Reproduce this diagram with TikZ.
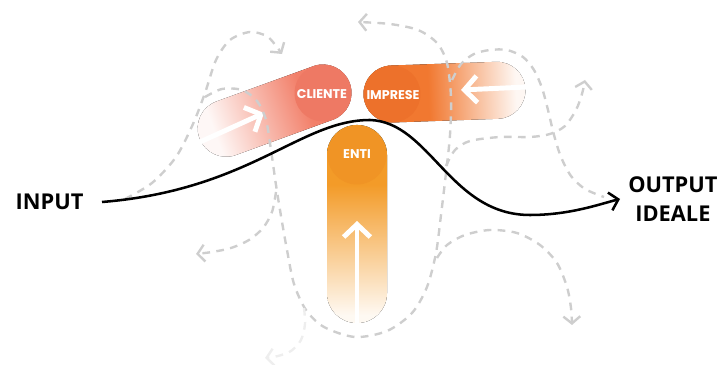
\documentclass[tikz,border=0pt]{standalone}
\usepackage{fontspec}
\setmainfont{Open Sans}
\newfontfamily\pillfont{Poppins}
\usetikzlibrary{arrows.meta}

\definecolor{clientecol}{RGB}{242,128,106}
\definecolor{clientehead}{RGB}{238,121,100}
\definecolor{imprcol}{RGB}{241,120,48}
\definecolor{imprhead}{RGB}{237,113,43}
\definecolor{enticol}{RGB}{243,155,40}
\definecolor{entihead}{RGB}{240,148,37}
\definecolor{trailgray}{RGB}{206,206,206}
\definecolor{trailfaint}{RGB}{238,238,238}
\colorlet{clientetail}{clientecol!6}
\colorlet{imprtail}{imprcol!6}
\colorlet{entitail}{enticol!6}

% fades of the three pills (the bounding box spans 25bp--75bp)
\pgfdeclarehorizontalshading{clientefade}{100bp}{color(0bp)=(clientetail); color(30bp)=(clientetail); color(60bp)=(clientecol); color(100bp)=(clientecol)}
\pgfdeclarehorizontalshading{imprfade}{100bp}{color(0bp)=(imprcol); color(45bp)=(imprcol); color(72bp)=(imprtail); color(100bp)=(imprtail)}
\pgfdeclareverticalshading{entifade}{100bp}{color(0bp)=(entitail); color(27bp)=(entitail); color(60bp)=(enticol); color(100bp)=(enticol)}

\tikzset{
  lbl/.style={font=\fontsize{15.5}{20.5}\selectfont\bfseries, text=black},
  pilllbl/.style={font=\pillfont\fontsize{9}{10}\selectfont\bfseries, text=white, inner sep=0pt},
  trail/.style={draw=trailgray, line width=1.7pt, dash pattern=on 5.5pt off 4.5pt},
  trailtip/.style={trail, -{Straight Barb[length=5pt,width=12pt]}},
  wharrow/.style={draw=white, line width=3.5pt, -{Straight Barb[length=9pt,width=19pt]}},
  conn/.style={draw=black, line width=1.8pt, -{Straight Barb[length=6pt,width=13pt]}}
}

\begin{document}
\begin{tikzpicture}[x=0.025cm,y=-0.025cm]
    \useasboundingbox (0,0) rectangle (719,365);
    % pills
    \fill[shading=entifade, rounded corners=0.74cm] (327,125) rectangle (387,323);
    \fill[entihead] (357,155) circle[radius=29.5];
    \begin{scope}[transform canvas={shift={(323,93)}, rotate=20}]
        \fill[shading=clientefade, rounded corners=0.71cm] (-131.5,-28.5) rectangle (28.5,28.5);
        \fill[clientehead] (0,0) circle[radius=28.5];
    \end{scope}
    \begin{scope}[transform canvas={shift={(392,94)}, rotate=2}]
        \fill[shading=imprfade, rounded corners=0.71cm] (-28.5,-28.5) rectangle (133.5,28.5);
        \fill[imprhead] (0,0) circle[radius=28.5];
    \end{scope}
    \node[pilllbl] (cliente) at (322,94) {CLIENTE};
    \node[pilllbl] (imprese) at (393,95) {IMPRESE};
    \node[pilllbl] (enti) at (357,154) {ENTI};
    % arrows inside the pills
    \draw[wharrow] (200,142) -- (264,113);
    \draw[wharrow] (527,87) -- (461,90);
    \draw[wharrow] (357,326) -- (357,221);
    % dashed trails
    \draw[trailtip] plot[smooth] coordinates {(125,199) (152,183) (176,157) (193,124) (205,93) (216,60) (230,40) (250,32) (268,37) (282,54)};
    \draw[trailtip] plot[smooth] coordinates {(205,97) (222,89) (242,90) (257,101) (266,120) (271,150) (276,185) (281,216) (287,250) (294,284) (306,310) (324,327) (355,337) (387,331) (412,313) (427,287) (436,253) (441,215) (446,173) (450,135) (451,97) (447,63) (437,43) (418,30) (390,24) (358,22)};
    \draw[trailtip] plot[smooth] coordinates {(276,192) (272,212) (263,228) (249,240) (231,248) (212,252) (196,254)};
    \draw[trailtip] plot[smooth] coordinates {(437,258) (447,245) (465,235) (490,230) (517,233) (540,245) (557,263) (567,287) (571,308) (572,325)};
    \draw[trailtip] plot[smooth] coordinates {(446,166) (455,150) (470,141) (500,137) (530,137) (550,134) (565,126) (576,110) (582,94) (585,80)};
    \draw[trail] plot[smooth] coordinates {(452,80) (461,64) (474,54) (490,50) (507,50) (523,57) (534,70) (542,88) (548,110) (554,135) (561,157) (571,176) (585,189) (604,197)};
    \draw[trailtip, draw=trailfaint] plot[smooth] coordinates {(304,308) (305,324) (301,340) (291,351) (278,356) (265,358)};
    % input / output
    \node[lbl, anchor=east, inner xsep=13pt] (input) at (102,202) {INPUT};
    \node[lbl, anchor=west, inner xsep=5.7pt, align=center] (output) at (620,199) {OUTPUT\\IDEALE};
    \draw[conn] (input.east) .. controls (250,190) and (300,120) .. (370,120)
        .. controls (430,122) and (450,215) .. (530,215)
        .. controls (570,215) and (600,204) .. (output.west);
\end{tikzpicture}
\end{document}
